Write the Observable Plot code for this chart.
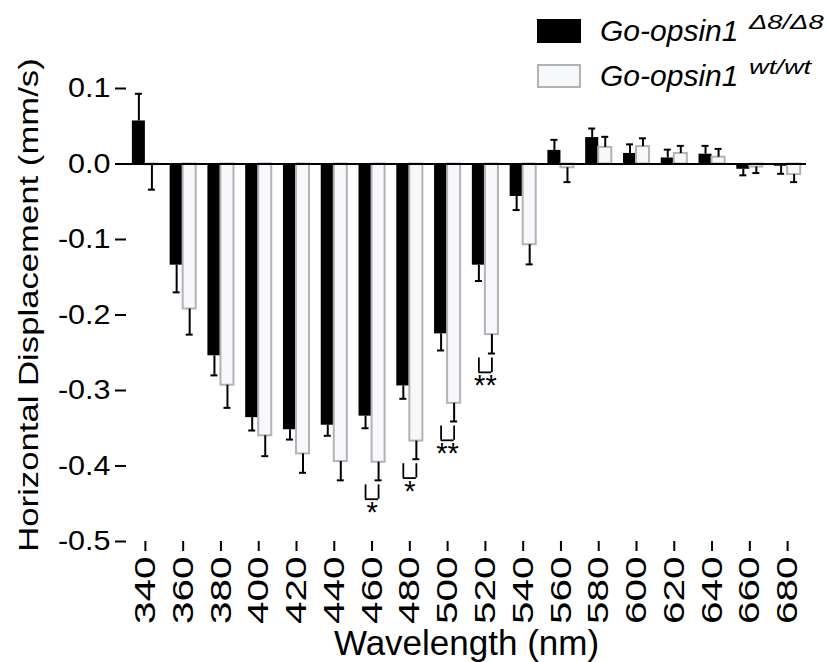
<!DOCTYPE html>
<html>
<head>
<meta charset="utf-8">
<script src="https://cdn.jsdelivr.net/npm/d3@7"></script>
<script src="https://cdn.jsdelivr.net/npm/@observablehq/plot@0.6"></script>
<style>
  body { margin: 0; background: #fff; color: #000; font-family: "Liberation Sans", Arial, Helvetica, sans-serif; }
  #wrap { position: relative; width: 827px; height: 662px; overflow: hidden; }
  #legend { position: absolute; left: 537px; top: 8px; }
  .row { display: flex; align-items: center; height: 45px; }
  .sw { width: 44px; height: 24px; box-sizing: border-box; margin-right: 19px; }
  .lab { font-style: italic; font-size: 30px; white-space: nowrap; }
  .sup { display: inline-block; font-size: 21px; transform: scaleX(1.3); transform-origin: left; position: relative; top: -12px; margin-left: 11px; }
</style>
</head>
<body>
<div id="wrap">
  <div id="chart"></div>
  <div id="legend"></div>
</div>
<script>
// Wavelength categories (nm)
const wavelengths = [340, 360, 380, 400, 420, 440, 460, 480, 500, 520, 540, 560, 580, 600, 620, 640, 660, 680];

// Go-opsin1 Δ8/Δ8 : mean and SEM of horizontal displacement (mm/s)
const mutantMean = [0.057, -0.134, -0.254, -0.336, -0.352, -0.346, -0.334, -0.294, -0.225, -0.134, -0.043, 0.018, 0.035, 0.014, 0.008, 0.013, -0.007, -0.003];
const mutantSem  = [0.036, 0.036, 0.026, 0.017, 0.013, 0.014, 0.016, 0.017, 0.022, 0.021, 0.018, 0.014, 0.012, 0.012, 0.011, 0.011, 0.008, 0.010];

// Go-opsin1 wt/wt : mean and SEM
const wildMean = [-0.001, -0.192, -0.293, -0.360, -0.384, -0.394, -0.395, -0.367, -0.317, -0.226, -0.107, -0.005, 0.022, 0.023, 0.014, 0.009, -0.004, -0.014];
const wildSem  = [0.033, 0.034, 0.030, 0.027, 0.025, 0.025, 0.024, 0.024, 0.024, 0.025, 0.026, 0.019, 0.014, 0.011, 0.010, 0.011, 0.008, 0.010];

// Significance markers
const sigWavelengths = [460, 480, 500, 520];
const sigLabels = ["*", "*", "**", "**"];

// Y axis ticks
const yTicks = [0.1, 0.0, -0.1, -0.2, -0.3, -0.4, -0.5];

// Series labels
const seriesNames = ["Go-opsin1", "Go-opsin1"];
const seriesSup = ["Δ8/Δ8", "wt/wt"];

const yTitle = "Horizontal Displacement (mm/s)";
const xTitle = "Wavelength (nm)";

const W = 827, H = 662;
const ml = 126, mr = 21, mt = 88, mb = 121;
const padIn = 0.31, padOut = 0.155;
const step = (W - ml - mr) / (wavelengths.length - padIn + 2 * padOut);
const bw = step * (1 - padIn);     // width of a group of two bars
const q = bw / 4;                  // offset of each bar's centre from group centre
const cap = 7;                     // error-bar cap width

const withEnd = (means, sems) => wavelengths.map((w, i) => ({
  w,
  mean: means[i],
  end: means[i] + (means[i] < 0 ? -1 : 1) * sems[i]
}));
const mutant = withEnd(mutantMean, mutantSem);
const wild = withEnd(wildMean, wildSem);

const sig = sigWavelengths.map((w, i) => {
  const j = wavelengths.indexOf(w);
  const end = wildMean[j] - wildSem[j];
  return { w, label: sigLabels[i], top: end - 0.006, bottom: end - 0.025 };
});

const font = '"Liberation Sans", Arial, Helvetica, sans-serif';

const chart = Plot.plot({
  width: W,
  height: H,
  marginLeft: ml,
  marginRight: mr,
  marginTop: mt,
  marginBottom: mb,
  style: { fontFamily: font, background: "#fff", color: "#000", overflow: "visible" },
  x: { type: "band", domain: wavelengths, paddingInner: padIn, paddingOuter: padOut, align: 0.5, round: false },
  y: { domain: [-0.5, 0.1] },
  marks: [
    // bars
    Plot.barY(mutant, { x: "w", y: "mean", fill: "#000", insetRight: bw / 2 }),
    Plot.barY(wild, { x: "w", y: "mean", fill: "#f7f8fc", stroke: "#b3b3b3", strokeWidth: 2, insetLeft: bw / 2 }),
    // error bars (one-sided, away from zero)
    Plot.ruleX(mutant, { x: "w", y1: "mean", y2: "end", dx: -q, stroke: "#000", strokeWidth: 2 }),
    Plot.tickY(mutant, { x: "w", y: "end", insetLeft: q - cap / 2, insetRight: bw - q - cap / 2, stroke: "#000", strokeWidth: 2 }),
    Plot.ruleX(wild, { x: "w", y1: "mean", y2: "end", dx: q, stroke: "#000", strokeWidth: 2 }),
    Plot.tickY(wild, { x: "w", y: "end", insetLeft: bw - q - cap / 2, insetRight: q - cap / 2, stroke: "#000", strokeWidth: 2 }),
    // zero line
    Plot.ruleY([0], { stroke: "#000", strokeWidth: 2 }),
    // significance brackets
    Plot.ruleX(sig, { x: "w", y1: "top", y2: "bottom", dx: -q, stroke: "#000", strokeWidth: 1.8 }),
    Plot.ruleX(sig, { x: "w", y1: "top", y2: "bottom", dx: q, stroke: "#000", strokeWidth: 1.8 }),
    Plot.tickY(sig, { x: "w", y: "bottom", insetLeft: q, insetRight: q, stroke: "#000", strokeWidth: 1.8 }),
    Plot.text(sig, { x: "w", y: "bottom", text: "label", lineAnchor: "top", dy: 2, fontSize: 29, fill: "#000" }),
    // axes
    Plot.axisY(yTicks, { tickFormat: (d) => d.toFixed(1), tickSize: 11, tickPadding: 5, fontSize: 27, line: true, label: null, strokeWidth: 2, stroke: "#000", fill: "#000" }),
    Plot.axisX({ tickRotate: -90, tickSize: 10, tickPadding: 5, fontSize: 30, line: true, label: null, strokeWidth: 2, stroke: "#000", fill: "#000" }),
    // axis titles
    Plot.text([yTitle], { frameAnchor: "left", rotate: -90, dx: -97, dy: -10, textAnchor: "middle", lineAnchor: "middle", fontSize: 28, fill: "#000" }),
    Plot.text([xTitle], { frameAnchor: "bottom", dy: 113, lineAnchor: "bottom", fontSize: 35, fill: "#000" })
  ]
});

// The lettering of this figure is set wide: stretch glyphs along the text direction.
function stretch(el, sx) {
  const t = el.getAttribute("transform") || "";
  el.setAttribute("transform", `${t} scale(${sx},1)`);
}
const svg = d3.select(chart.tagName === "svg" ? chart : chart.querySelector("svg"));
svg.selectAll('g[aria-label="x-axis tick label"] text').each(function () { stretch(this, 1.35); });
svg.selectAll('g[aria-label="y-axis tick label"] text').each(function () { stretch(this, 1.13); });
svg.selectAll("text").filter(function () { return this.textContent === yTitle; }).each(function () { stretch(this, 1.24); });

document.getElementById("chart").appendChild(chart);

// legend
const swatches = [
  "background:#000;",
  "background:#f7f8fc;border:2px solid #b3b3b3;"
];
const legend = document.getElementById("legend");
seriesNames.forEach((name, i) => {
  const row = document.createElement("div");
  row.className = "row";
  row.innerHTML = `<div class="sw" style="${swatches[i]}"></div><div class="lab">${name}<span class="sup">${seriesSup[i]}</span></div>`;
  legend.appendChild(row);
});
</script>
</body>
</html>
